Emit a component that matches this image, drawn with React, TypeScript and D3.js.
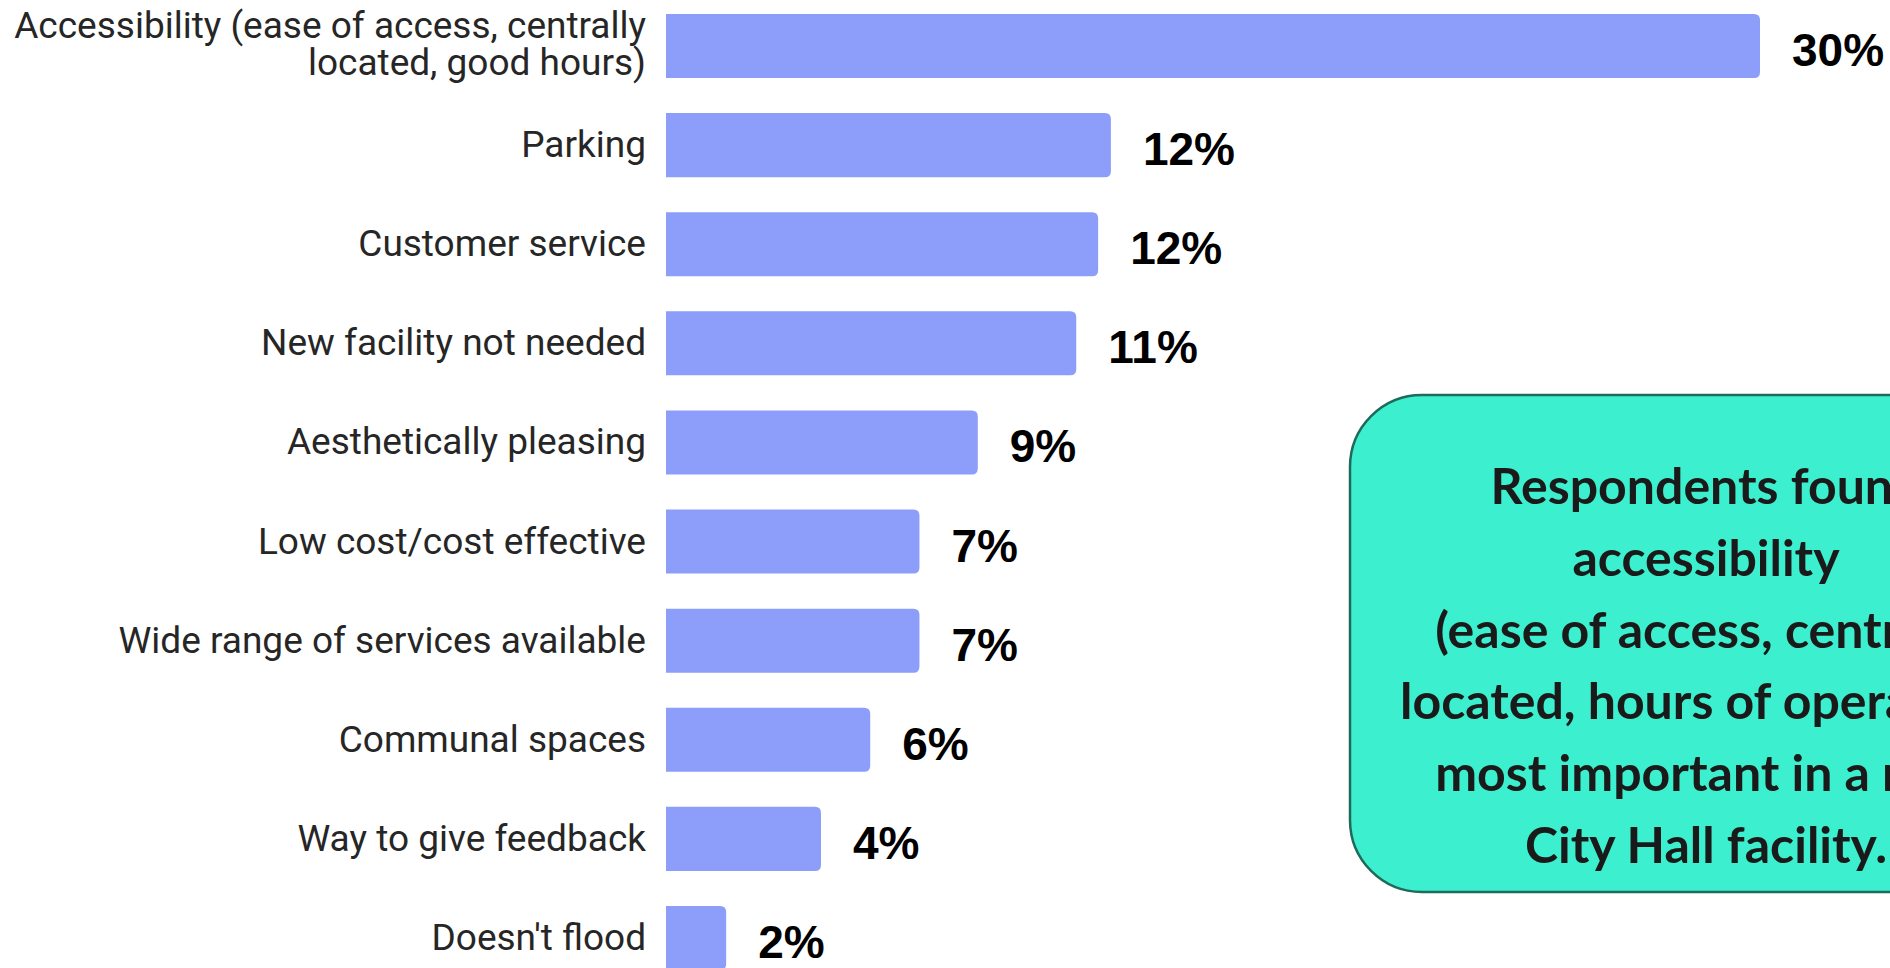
import React from 'react';
import * as d3 from 'd3';

const WIDTH = 1890;
const HEIGHT = 968;

const categories = [
    'Accessibility (ease of access, centrally|located, good hours)',
    'Parking',
    'Customer service',
    'New facility not needed',
    'Aesthetically pleasing',
    'Low cost/cost effective',
    'Wide range of services available',
    'Communal spaces',
    'Way to give feedback',
    "Doesn't flood",
];
const values = [30, 12.2, 11.85, 11.25, 8.55, 6.95, 6.95, 5.6, 4.25, 1.65];
const valueLabels = ['30%', '12%', '12%', '11%', '9%', '7%', '7%', '6%', '4%', '2%'];

const noteLines = [
    'Respondents found',
    'accessibility',
    '(ease of access, centrally',
    'located, hours of operation)',
    'most important in a new',
    'City Hall facility.',
];

const BAR_COLOR = '#8c9efa';

// bar with rounded right end only
const barPath = (x0: number, x1: number, y: number, h: number, r: number) => {
    const rr = Math.min(r, (x1 - x0) / 2, h / 2);
    return `M${x0},${y}H${x1 - rr}Q${x1},${y} ${x1},${y + rr}V${y + h - rr}Q${x1},${y + h} ${x1 - rr},${y + h}H${x0}Z`;
};

const App = () => {
    const x = d3.scaleLinear([0, 30], [666, 1760]);
    const y = d3
        .scaleBand<string>()
        .domain(categories)
        .range([14, 970])
        .paddingInner(0.354)
        .paddingOuter(0);

    return (
        <svg
            width={WIDTH}
            height={HEIGHT}
            style={{ position: 'absolute', left: 0, top: 0, background: '#fff' }}
        >
            {categories.map((c, i) => {
                const top = y(c) ?? 0;
                const h = y.bandwidth();
                const cy = top + h / 2;
                const lines = c.split('|');
                return (
                    <g key={c}>
                        <path d={barPath(x(0), x(values[i]), top, h, 6)} fill={BAR_COLOR} />
                        <text
                            x={646}
                            textAnchor='end'
                            fontFamily='Roboto, sans-serif'
                            fontSize={37}
                            fill='#262626'
                        >
                            {lines.length === 1 ? (
                                <tspan x={646} y={cy + 12}>
                                    {lines[0]}
                                </tspan>
                            ) : (
                                lines.map((l, j) => (
                                    <tspan key={j} x={646} y={cy - 8 + j * 37}>
                                        {l}
                                    </tspan>
                                ))
                            )}
                        </text>
                        <text
                            x={x(values[i]) + 32}
                            y={cy + 20}
                            fontFamily='"Liberation Sans", Arial, sans-serif'
                            fontWeight='bold'
                            fontSize={46}
                            fill='#000'
                        >
                            {valueLabels[i]}
                        </text>
                    </g>
                );
            })}
            <rect
                x={1350}
                y={395}
                width={720}
                height={497}
                rx={72}
                ry={72}
                fill='#3cf0cf'
                stroke='#1e6b5c'
                strokeWidth={2.5}
            />
            <text
                textAnchor='middle'
                fontFamily='Lato, sans-serif'
                fontWeight='bold'
                fontSize={50}
                fill='#1a1a1a'
            >
                {noteLines.map((l, i) => (
                    <tspan key={i} x={1706} y={504 + i * 71.8}>
                        {l}
                    </tspan>
                ))}
            </text>
        </svg>
    );
};

export default App;
